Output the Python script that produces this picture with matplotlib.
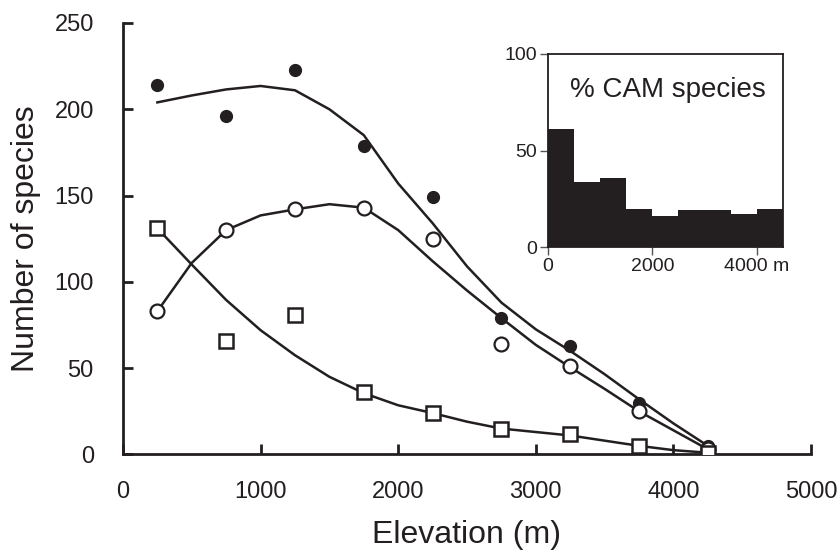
import numpy as np
import matplotlib.pyplot as plt

plt.rcParams['font.family'] = ['Liberation Sans', 'DejaVu Sans']

ink = '#231f20'

# elevation bands (m) and species counts
elev = [250, 750, 1250, 1750, 2250, 2750, 3250, 3750, 4250]
total_species = [214, 196, 223, 179, 149, 79, 63, 30, 5]      # filled circles
open_species = [83, 130, 142, 143, 125, 64, 51, 25, 3]        # open circles
square_species = [131, 66, 81, 36, 24, 15, 12, 5, 1]          # open squares

# fitted curves (every 250 m)
curve_elev = [250, 500, 750, 1000, 1250, 1500, 1750, 2000, 2250, 2500,
              2750, 3000, 3250, 3500, 3750, 4000, 4250]
total_curve = [204, 208, 211.5, 213.5, 211, 200, 185, 157, 134, 109,
               88, 72.5, 60, 46.5, 32, 18, 5]
open_curve = [83, 111, 130, 138.5, 142, 145, 143, 130, 112, 95,
              79, 63.5, 50.5, 38, 25, 14, 3]
square_curve = [131, 110, 89.5, 72, 57.5, 45, 35.5, 28.5, 24, 19,
                15, 13, 11, 8, 5, 2.5, 1]

# inset: % CAM species per 500 m band
cam_left = [0, 500, 1000, 1500, 2000, 2500, 3000, 3500, 4000]
cam_pct = [61, 33.5, 36, 19.5, 16, 19, 19, 17, 19.5]

fig = plt.figure(figsize=(8.4, 5.59), dpi=100)
ax = fig.add_axes([0.1464, 0.187, 0.8191, 0.7719])

lw = 1.8
ax.plot(curve_elev, total_curve, color=ink, lw=lw, zorder=2)
ax.plot(curve_elev, open_curve, color=ink, lw=lw, zorder=2)
ax.plot(curve_elev, square_curve, color=ink, lw=lw, zorder=2)

ax.plot(elev, total_species, 'o', color=ink, ms=8.5, zorder=3)
ax.plot(elev, open_species, 'o', mfc='white', mec=ink, mew=1.6, ms=10, zorder=4)
ax.plot(elev, square_species, 's', mfc='white', mec=ink, mew=1.8, ms=9.5, zorder=4)

ax.set_xlim(0, 5000)
ax.set_ylim(0, 250)
ax.set_xticks([0, 1000, 2000, 3000, 4000, 5000])
ax.set_yticks([0, 50, 100, 150, 200, 250])
for s in ['top', 'right']:
    ax.spines[s].set_visible(False)
for s in ['left', 'bottom']:
    ax.spines[s].set_linewidth(2)
    ax.spines[s].set_color(ink)
ax.tick_params(axis='both', direction='in', length=7, width=2, color=ink,
               labelsize=17, labelcolor=ink)
ax.tick_params(axis='y', pad=21)
ax.tick_params(axis='x', pad=19)
ax.set_xlabel('Elevation (m)', fontsize=23, color=ink, labelpad=12)
ax.set_ylabel('Number of species', fontsize=23, color=ink, labelpad=10)

# inset histogram
ins = fig.add_axes([0.6524, 0.558, 0.2796, 0.3454])
ins.bar(cam_left, cam_pct, width=500, align='edge', color=ink, edgecolor=ink, lw=0)
ins.set_xlim(0, 4500)
ins.set_ylim(0, 100)
ins.set_xticks([0, 2000, 4000])
ins.set_xticklabels(['0', '2000', '4000 m'])
ins.set_yticks([0, 50, 100])
for s in ins.spines.values():
    s.set_linewidth(1.3)
    s.set_color(ink)
ins.tick_params(axis='both', direction='out', length=6, width=1, color='#555555',
                labelsize=14, labelcolor=ink, pad=2)
ins.text(0.094, 0.777, '% CAM species', transform=ins.transAxes,
         fontsize=20, color=ink, ha='left', va='baseline')

fig.savefig('out.png', dpi=100)
